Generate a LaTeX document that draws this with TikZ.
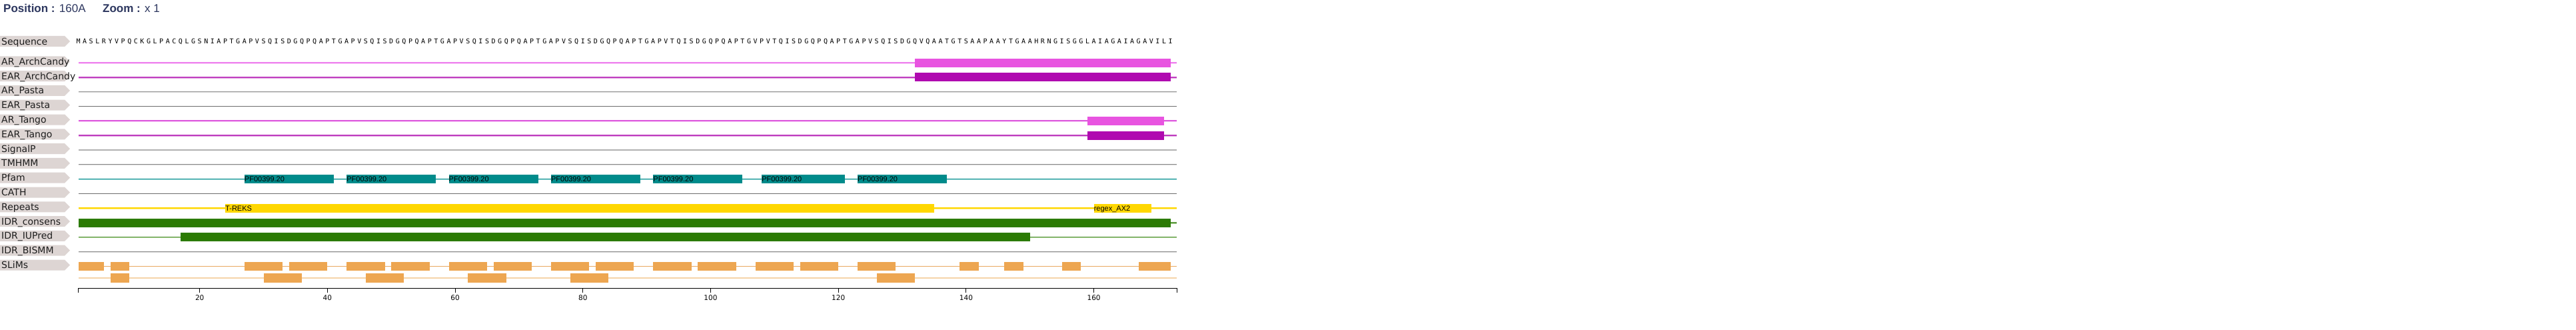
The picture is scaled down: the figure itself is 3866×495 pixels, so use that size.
\documentclass[tikz,border=0pt]{standalone}
\usepackage{fontspec}
\setmainfont{DejaVu Sans}
\newfontfamily\seqfont{DejaVu Sans Mono}
\newfontfamily\arialfont{Liberation Sans}
\definecolor{titlecol}{RGB}{45,55,95}
\definecolor{tagbg}{RGB}{221,213,211}
\definecolor{labtext}{RGB}{30,30,30}
\definecolor{arL}{RGB}{238,130,238}
\definecolor{arLu}{RGB}{250,205,250}
\definecolor{arBar}{RGB}{232,84,224}
\definecolor{earL}{RGB}{192,64,192}
\definecolor{earLu}{RGB}{230,175,230}
\definecolor{earBar}{RGB}{176,10,176}
\definecolor{tgL}{RGB}{221,90,221}
\definecolor{etgL}{RGB}{190,60,190}
\definecolor{greyA}{RGB}{150,150,150}
\definecolor{greyB}{RGB}{110,110,110}
\definecolor{greyC}{RGB}{176,176,176}
\definecolor{greyD}{RGB}{140,140,140}
\definecolor{greyU}{RGB}{218,218,218}
\definecolor{pfamcol}{RGB}{0,139,139}
\definecolor{pfamU}{RGB}{170,220,220}
\definecolor{repcol}{RGB}{255,215,0}
\definecolor{repU}{RGB}{255,236,130}
\definecolor{idrcol}{RGB}{44,123,4}
\definecolor{idrL}{RGB}{95,155,65}
\definecolor{idrU}{RGB}{165,205,145}
\definecolor{slimL}{RGB}{232,168,96}
\definecolor{slimL2}{RGB}{245,212,168}
\definecolor{slimcol}{RGB}{237,166,81}
\newcommand{\X}[1]{108+9.585*(#1)}
\begin{document}
\begin{tikzpicture}[x=1pt,y=-1pt,
  lbl/.style={anchor=base west, inner sep=0pt, font=\fontsize{14}{16}\selectfont, text=labtext},
  tagshape/.style={fill=tagbg, draw=none},
  seqletter/.style={anchor=base, inner sep=0pt, font=\seqfont\fontsize{10}{12}\selectfont, text=black},
  boxlbl/.style={anchor=base west, inner sep=0pt, font=\arialfont\fontsize{11}{13}\selectfont, text=black},
  ticklbl/.style={anchor=base, inner sep=0pt, font=\fontsize{10.5}{12}\selectfont, text=black},
  titletext/.style={anchor=base west, inner sep=0pt, font=\arialfont\fontsize{17}{20}\selectfont, text=titlecol}
]
\useasboundingbox[fill=white] (0,0) rectangle (3866,495);

% title
\node[titletext] (title1) at (5,19) {\textbf{Position :} 160A};
\node[titletext] (title2) at (154,19) {\textbf{Zoom :} x 1};

% label tags
\foreach \nm/\c [count=\k] in {Sequence/62, AR\_ArchCandy/92.3, EAR\_ArchCandy/114.1, AR\_Pasta/135.9, EAR\_Pasta/157.7, AR\_Tango/179.5, EAR\_Tango/201.3, SignalP/223.1, TMHMM/244.9, Pfam/266.7, CATH/288.5, Repeats/310.3, IDR\_consens/332.1, IDR\_IUPred/353.9, IDR\_BISMM/375.7, SLiMs/397.5}{
  \fill[tagshape] (0,\c-8) -- (97,\c-8) -- (105,\c) -- (97,\c+8) -- (0,\c+8) -- cycle;
  \node[lbl] (lab\k) at (2,\c+5) {\nm};
}

% sequence letters
\foreach \ch [count=\i] in {M,A,S,L,R,Y,V,P,Q,C,K,G,L,P,A,C,Q,L,G,S,N,I,A,P,T,G,A,P,V,
S,Q,I,S,D,G,Q,P,Q,A,P,T,G,A,P,V,
S,Q,I,S,D,G,Q,P,Q,A,P,T,G,A,P,V,
S,Q,I,S,D,G,Q,P,Q,A,P,T,G,A,P,V,
S,Q,I,S,D,G,Q,P,Q,A,P,T,G,A,P,V,
T,Q,I,S,D,G,Q,P,Q,A,P,T,G,V,P,V,
T,Q,I,S,D,G,Q,P,Q,A,P,T,G,A,P,V,
S,Q,I,S,D,G,Q,V,Q,A,A,T,G,T,S,A,A,P,A,A,Y,T,G,A,A,H,R,N,G,I,S,G,G,L,A,I,A,G,A,I,A,G,A,V,I,L,I}{
  \node[seqletter] (s\i) at ({\X{\i}},65.7) {\ch};
}

% track lines (main + lighter underline)
\foreach \y/\cm/\cu/\w in {94/arL/arLu/1.6, 115.8/earL/earLu/1.6, 137.6/greyA/greyU/1.5, 159.4/greyB/white/1.4,
  181.2/tgL/arLu/1.5, 203/etgL/earLu/1.5, 224.8/greyC/white/2.2, 246.6/greyD/greyU/1.5,
  268.4/pfamcol/pfamU/1.5, 290.2/greyB/white/1.4, 312/repcol/repU/1.3, 333.8/idrL/idrU/1.5,
  355.6/idrL/idrU/1.5, 377.4/greyD/greyU/1.5}{
  \draw[line width=0.9pt, \cu] ({\X{1}},\y+1.2) -- ({\X{173}},\y+1.2);
  \draw[line width=\w pt, \cm] ({\X{1}},\y) -- ({\X{173}},\y);
}
\draw[line width=1.2pt, slimL] ({\X{1}},399.3) -- ({\X{173}},399.3);
\draw[line width=2.4pt, slimL2] ({\X{1}},416.8) -- ({\X{173}},416.8);

% ArchCandy bars
\fill[arBar] ({\X{132}},87.5) rectangle ({\X{172}},100.5);
\fill[earBar] ({\X{132}},109.3) rectangle ({\X{172}},122.3);
% Tango bars
\fill[arBar] ({\X{159}},174.9) rectangle ({\X{171}},187.7);
\fill[earBar] ({\X{159}},196.6) rectangle ({\X{171}},209.5);

% Pfam domains
\foreach \a/\b [count=\k] in {27/41, 43/57, 59/73, 75/89, 91/105, 108/121, 123/137}{
  \fill[pfamcol] ({\X{\a}},262) rectangle ({\X{\b}},274.7);
  \node[boxlbl] (pf\k) at ({\X{\a}},272.2) {PF00399.20};
}

% Repeats
\fill[repcol] ({\X{24}},306) rectangle ({\X{135}},318.7);
\node[boxlbl] (rep1) at ({\X{24}},316) {T-REKS};
\fill[repcol] ({\X{160}},306) rectangle ({\X{169}},318.7);
\node[boxlbl] (rep2) at ({\X{160}},316) {regex\_AX2};

% IDR
\fill[idrcol] ({\X{1}},328) rectangle ({\X{172}},340.7);
\fill[idrcol] ({\X{17}},349.3) rectangle ({\X{150}},362);

% SLiMs row 1
\foreach \a/\b in {1/5, 6/9, 27/33, 34/40, 43/49, 50/56, 59/65, 66/72, 75/81, 82/88, 91/97, 98/104, 107/113, 114/120, 123/129, 139/142, 146/149, 155/158, 167/172}{
  \fill[slimcol] ({\X{\a}},393) rectangle ({\X{\b}},405.7);
}
% SLiMs row 2
\foreach \a/\b in {6/9, 30/36, 46/52, 62/68, 78/84, 126/132}{
  \fill[slimcol] ({\X{\a}},410.3) rectangle ({\X{\b}},423.7);
}

% axis
\coordinate (ax0) at ({\X{1}},432.3);
\coordinate (ax1) at ({\X{173}},432.3);
\draw[line width=1.3pt, black] (ax0) -- (ax1);
\foreach \t in {1,20,40,60,80,100,120,140,160,173}{
  \draw[line width=1.1pt, black] ({\X{\t}},432.3) -- ({\X{\t}},439.3);
}
\foreach \t in {20,40,60,80,100,120,140,160}{
  \node[ticklbl] (tk\t) at ({\X{\t}},450) {\t};
}
\end{tikzpicture}
\end{document}
